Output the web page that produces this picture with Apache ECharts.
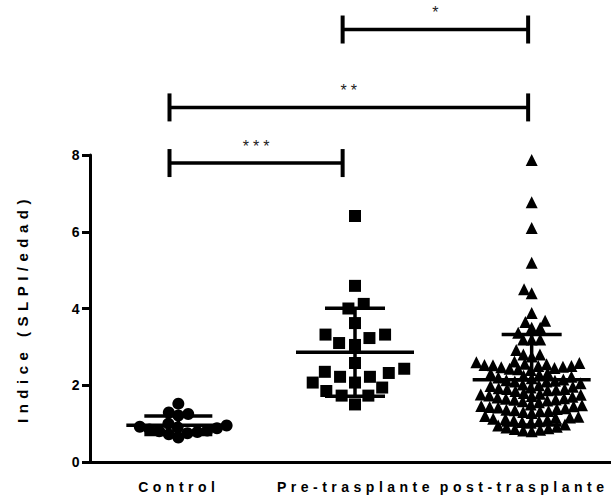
<!DOCTYPE html>
<html><head><meta charset="utf-8">
<script src="https://cdn.jsdelivr.net/npm/echarts@6/dist/echarts.min.js"></script>
<style>
html,body{margin:0;padding:0;background:#fff;}
#main{width:611px;height:499px;}
#main text[style*="14px"]{letter-spacing:4.5px;}
#main text[style*="15px"]{letter-spacing:5.5px;}
#main text[style*="16px"]{letter-spacing:4px;}
</style></head><body><div id="main"></div>
<script>
const categories = ['Control', 'Pre-trasplante', 'post-trasplante'];
const controlValues = [1.52, 1.29, 1.21, 1.25, 1.0, 0.95, 0.92, 0.9, 0.88, 0.85, 0.82, 0.8, 0.78, 0.75, 0.72, 0.64];
const preValues = [6.41, 4.59, 4.12, 4.0, 3.62, 3.32, 3.1, 3.05, 3.23, 3.32, 2.58, 2.35, 2.22, 2.07, 2.07, 2.22, 2.32, 2.43, 1.73, 1.5, 1.85, 1.73, 1.94];
const postValues = [
  7.87, 6.77, 6.1, 5.19, 4.5, 4.4, 3.88, 3.68, 3.65, 3.5, 3.5, 3.37, 3.19, 3.19, 3.19, 2.92, 2.8, 2.8, 2.75,
  2.62, 2.6, 2.58, 2.56, 2.55, 2.53, 2.52, 2.5, 2.5, 2.48, 2.47, 2.45, 2.43, 2.42, 2.4,
  2.32, 2.3, 2.28, 2.25, 2.22, 2.2, 2.18, 2.15, 2.13, 2.12, 2.1, 2.1,
  2.05, 2.02, 2.0, 1.98, 1.96, 1.94, 1.92, 1.9, 1.9, 1.88, 1.87, 1.85,
  1.8, 1.78, 1.76, 1.75, 1.73, 1.72, 1.7, 1.68, 1.66, 1.65, 1.63, 1.62, 1.6, 1.58, 1.56,
  1.5, 1.48, 1.46, 1.45, 1.43, 1.42, 1.4, 1.38, 1.36, 1.35, 1.33, 1.32, 1.3, 1.28,
  1.2, 1.18, 1.16, 1.15, 1.13, 1.12, 1.1, 1.08, 1.06, 1.04, 1.02,
  0.98, 0.95, 0.92, 0.9, 0.88, 0.86, 0.84, 0.82, 0.8
];
const yTicks = [0, 2, 4, 6, 8];
const bracketFrom = [-0.05, -0.05, 0.93];
const bracketTo = [0.93, 1.98, 1.98];
const bracketLevel = [7.79, 9.24, 11.27];
const bracketLabels = ['***', '**', '*'];

const groups = [controlValues, preValues, postValues];
const symbols = ['circle', 'rect', 'triangle'];
const symbolSizes = [12, 12, 12];
const swarmDist = [10, 16, 8.5];
const meanHalf = [52, 59, 59];
const capHalf = [34, 30, 30];
const labelStyleKey = ['a', 'a', 'b'];
const FONT = "'Liberation Sans', Arial, sans-serif";

function stats(v) {
  const m = v.reduce((a, b) => a + b, 0) / v.length;
  const s = Math.sqrt(v.reduce((a, b) => a + (b - m) * (b - m), 0) / (v.length - 1));
  return [m, s];
}

const chart = echarts.init(document.getElementById('main'), null, {renderer: 'svg'});
const lblFont = {color: '#000', fontSize: 14, fontWeight: 'bold', fontFamily: FONT};

const base = {
  animation: false,
  backgroundColor: '#fff',
  grid: {left: 90, width: 530, top: 155, bottom: 37, outerBoundsMode: 'none', containLabel: false},
  xAxis: [{
    type: 'category', data: categories, boundaryGap: true,
    axisLine: {onZero: false, lineStyle: {color: '#000', width: 3}},
    axisTick: {alignWithLabel: true, length: 8, lineStyle: {color: '#000', width: 3}},
    axisLabel: Object.assign({
      interval: 0, margin: 18,
      formatter: function (v, i) { return '{' + labelStyleKey[i] + '|' + v + '}'; },
      rich: {
        a: Object.assign({padding: [0, 0, 0, 1]}, lblFont),
        b: Object.assign({padding: [0, 15, 0, 0]}, lblFont)
      }
    }, lblFont),
    splitLine: {show: false}
  }, {
    type: 'value', min: -0.5, max: 2.5, show: false
  }],
  yAxis: {
    type: 'value', min: 0, max: 8, interval: 2,
    name: 'Indice (SLPI/edad)', nameLocation: 'middle', nameGap: 60, nameRotate: 90,
    nameTextStyle: {color: '#000', fontSize: 15, fontWeight: 'bold', fontFamily: FONT},
    axisLine: {show: true, onZero: false, lineStyle: {color: '#000', width: 3}},
    axisTick: {show: true, length: 8, customValues: yTicks, lineStyle: {color: '#000', width: 3}},
    axisLabel: Object.assign({margin: 6, customValues: yTicks}, lblFont),
    splitLine: {show: false}
  },
  series: []
};
chart.setOption(base);

const p0 = chart.convertToPixel({xAxisIndex: 1, yAxisIndex: 0}, [0, 0]);
const p1 = chart.convertToPixel({xAxisIndex: 1, yAxisIndex: 0}, [1, 1]);
const pxX = p1[0] - p0[0];
const pxY = p0[1] - p1[1];

function swarm(values, d) {
  const order = values.map((v, i) => i).sort((a, b) => values[a] - values[b]);
  const placed = [];
  const out = new Array(values.length);
  for (const i of order) {
    const y = values[i] * pxY;
    const cands = [0];
    for (const p of placed) {
      const dy = Math.abs(p.y - y);
      if (dy < d) {
        const dx = Math.sqrt(d * d - dy * dy);
        cands.push(p.x + dx + 0.01, p.x - dx - 0.01);
      }
    }
    cands.sort((a, b) => Math.abs(a) - Math.abs(b) || a - b);
    let best = 0;
    for (const c of cands) {
      if (placed.every(p => (p.x - c) * (p.x - c) + (p.y - y) * (p.y - y) >= d * d - 0.1)) { best = c; break; }
    }
    placed.push({x: best, y: y});
    out[i] = best / pxX;
  }
  return out;
}

const series = [];
groups.forEach((vals, g) => {
  const offs = swarm(vals, swarmDist[g]);
  series.push({
    type: 'scatter', name: categories[g], xAxisIndex: 1, yAxisIndex: 0,
    symbol: symbols[g], symbolSize: symbolSizes[g],
    itemStyle: {color: '#000', opacity: 1},
    data: vals.map((v, i) => [g + offs[i], v]),
    z: 2
  });
});

const errData = groups.map((vals, g) => { const st = stats(vals); return [g, st[0], st[1]]; });
series.push({
  type: 'custom', xAxisIndex: 1, yAxisIndex: 0, z: 5, silent: true,
  data: errData,
  renderItem: function (params, api) {
    const g = api.value(0), m = api.value(1), s = api.value(2);
    const c = api.coord([g, m]), t = api.coord([g, m + s]), b = api.coord([g, m - s]);
    const st = {stroke: '#000', lineWidth: 3.5};
    const mh = meanHalf[params.dataIndex], ch = capHalf[params.dataIndex];
    return {type: 'group', children: [
      {type: 'line', shape: {x1: c[0] - mh, y1: c[1], x2: c[0] + mh, y2: c[1]}, style: st},
      {type: 'line', shape: {x1: c[0], y1: t[1], x2: c[0], y2: b[1]}, style: st},
      {type: 'line', shape: {x1: c[0] - ch, y1: t[1], x2: c[0] + ch, y2: t[1]}, style: st},
      {type: 'line', shape: {x1: c[0] - ch, y1: b[1], x2: c[0] + ch, y2: b[1]}, style: st}
    ]};
  }
});

series.push({
  type: 'custom', xAxisIndex: 1, yAxisIndex: 0, z: 5, silent: true, clip: false,
  data: bracketFrom.map((f, i) => [f, bracketTo[i], bracketLevel[i]]),
  renderItem: function (params, api) {
    const a = api.coord([api.value(0), api.value(2)]);
    const b = api.coord([api.value(1), api.value(2)]);
    const st = {stroke: '#000', lineWidth: 3.5};
    const vt = {stroke: '#000', lineWidth: 4};
    return {type: 'group', children: [
      {type: 'line', shape: {x1: a[0], y1: a[1], x2: b[0], y2: b[1]}, style: st},
      {type: 'line', shape: {x1: a[0], y1: a[1] - 14, x2: a[0], y2: a[1] + 14}, style: vt},
      {type: 'line', shape: {x1: b[0], y1: b[1] - 14, x2: b[0], y2: b[1] + 14}, style: vt},
      {type: 'text', style: {text: bracketLabels[params.dataIndex], x: (a[0] + b[0]) / 2 + 2, y: a[1] - 17,
        textAlign: 'center', textVerticalAlign: 'middle', fill: '#222', fontSize: 16, fontFamily: FONT}}
    ]};
  }
});

chart.setOption({series: series});
</script>
</body></html>
